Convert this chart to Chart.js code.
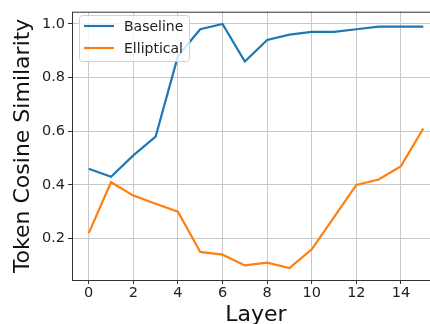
<!DOCTYPE html>
<html>
<head>
<meta charset="utf-8">
<script src="https://cdn.jsdelivr.net/npm/chart.js@4"></script>
<style>
  html, body { margin: 0; padding: 0; background: #fff; overflow: hidden; }
  #wrap { width: 440px; height: 324px; }
</style>
</head>
<body>
<div id="wrap"><canvas id="chart"></canvas></div>
<script>
var layers = [0, 1, 2, 3, 4, 5, 6, 7, 8, 9, 10, 11, 12, 13, 14, 15];
var baseline = [0.46, 0.43, 0.51, 0.58, 0.88, 0.98, 1.0, 0.86, 0.94, 0.96, 0.97, 0.97, 0.98, 0.99, 0.99, 0.99];
var elliptical = [0.22, 0.41, 0.36, 0.33, 0.30, 0.15, 0.14, 0.10, 0.11, 0.09, 0.16, 0.28, 0.40, 0.42, 0.47, 0.61];
var xTicks = [0, 2, 4, 6, 8, 10, 12, 14];
var yTicks = [0.2, 0.4, 0.6, 0.8, 1.0];

var font = "'DejaVu Sans', sans-serif";

function toPoints(vals) {
  return vals.map(function (v, i) { return { x: layers[i], y: v }; });
}

// matplotlib-like frame + legend inside the axes
var framePlugin = {
  id: "frame",
  afterDraw: function (chart) {
    var ctx = chart.ctx, a = chart.chartArea;
    ctx.save();
    ctx.strokeStyle = "#333";
    ctx.lineWidth = 1;
    ctx.strokeRect(a.left + 0.5, a.top + 0.5, a.right - a.left, a.bottom - a.top);

    // legend
    var lx = 79, ly = 15, lw = 110, lh = 46;
    ctx.fillStyle = "rgba(255,255,255,0.8)";
    ctx.strokeStyle = "#d0d0d0";
    ctx.beginPath();
    ctx.roundRect(lx + 0.5, ly + 0.5, lw, lh, 3);
    ctx.fill();
    ctx.stroke();
    var items = [["Baseline", "#1f77b4"], ["Elliptical", "#ff7f0e"]];
    ctx.font = "14px " + font;
    ctx.textBaseline = "middle";
    items.forEach(function (it, i) {
      var y = ly + 11 + i * 22;
      ctx.strokeStyle = it[1];
      ctx.lineWidth = 2.2;
      ctx.beginPath();
      ctx.moveTo(84, y);
      ctx.lineTo(114, y);
      ctx.stroke();
      ctx.fillStyle = "#222";
      ctx.fillText(it[0], 124, y + 1);
    });
    ctx.restore();
  }
};

new Chart(document.getElementById("chart"), {
  type: "line",
  data: {
    datasets: [
      { label: "Baseline", data: toPoints(baseline), borderColor: "#1f77b4", borderWidth: 2.2, pointRadius: 0, tension: 0, fill: false },
      { label: "Elliptical", data: toPoints(elliptical), borderColor: "#ff7f0e", borderWidth: 2.2, pointRadius: 0, tension: 0, fill: false }
    ]
  },
  options: {
    responsive: true,
    maintainAspectRatio: false,
    animation: false,
    layout: { padding: { top: 8, right: 0, left: 0, bottom: 0 } },
    plugins: { legend: { display: false }, tooltip: { enabled: false } },
    scales: {
      x: {
        type: "linear",
        min: -0.75,
        max: 15.75,
        afterBuildTicks: function (s) { s.ticks = xTicks.map(function (v) { return { value: v }; }); },
        afterFit: function (s) { s.height = 44; },
        grid: { color: "#c8c8c8", lineWidth: 1, drawTicks: true, tickLength: 4, tickColor: "#333" },
        border: { display: false },
        ticks: { color: "#222", font: { family: font, size: 14.5 }, padding: 1, maxRotation: 0 },
        title: { display: true, text: "Layer", color: "#111", font: { family: font, size: 22 }, padding: { top: 0, bottom: -4 } }
      },
      y: {
        min: 0.0455,
        max: 1.0455,
        afterBuildTicks: function (s) { s.ticks = yTicks.map(function (v) { return { value: v }; }); },
        afterFit: function (s) { s.width = 72; },
        grid: { color: "#c8c8c8", lineWidth: 1, drawTicks: true, tickLength: 4, tickColor: "#333" },
        border: { display: false },
        ticks: { color: "#222", font: { family: font, size: 14.5 }, padding: 3, callback: function (v) { return v.toFixed(1); } },
        title: { display: true, text: "Token Cosine Similarity", color: "#111", font: { family: font, size: 22 }, padding: { top: 10, bottom: 0 } }
      }
    }
  },
  plugins: [framePlugin]
});
</script>
</body>
</html>
